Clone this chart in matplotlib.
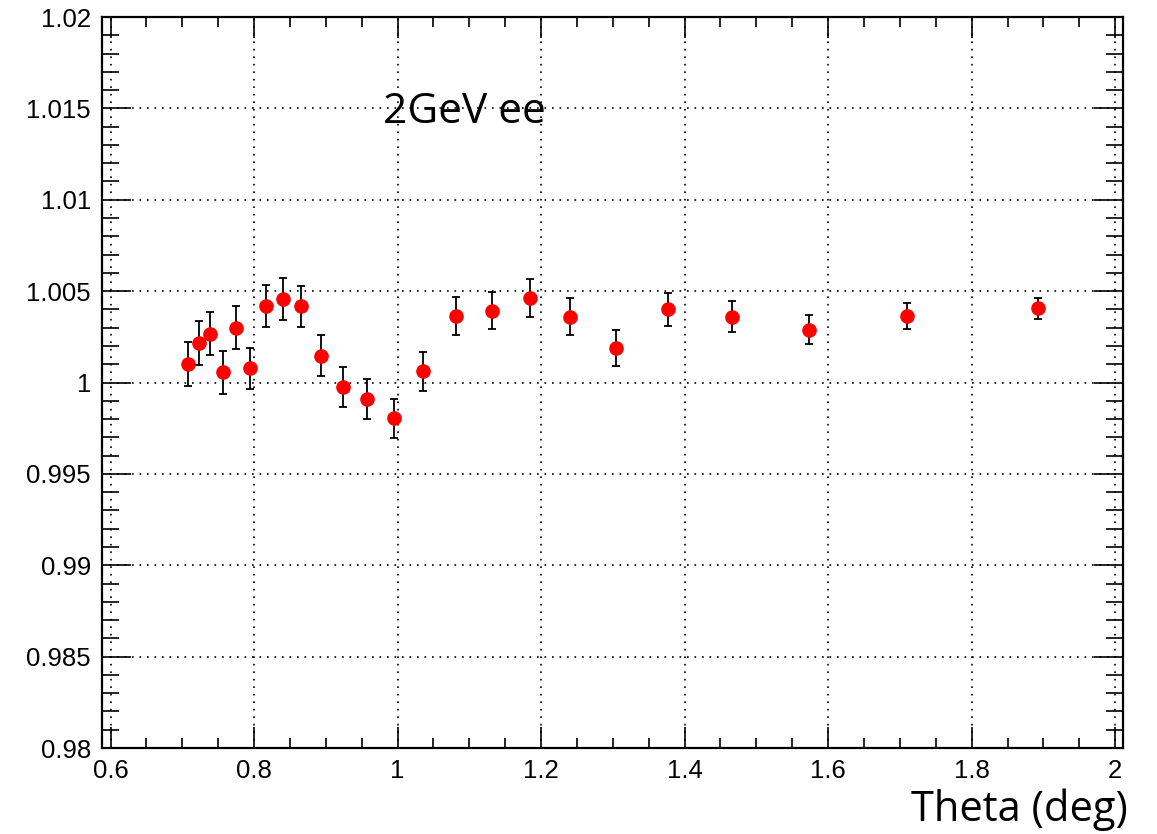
import matplotlib
matplotlib.use("Agg")
import matplotlib.pyplot as plt
from matplotlib.ticker import MultipleLocator, FuncFormatter

# data
theta = [0.708, 0.723, 0.739, 0.757, 0.7755, 0.795, 0.817, 0.840, 0.866, 0.894,
         0.924, 0.9575, 0.9946, 1.0355, 1.081, 1.131, 1.184, 1.240, 1.304, 1.377,
         1.466, 1.574, 1.710, 1.893]
ratio = [1.0010, 1.00216, 1.00268, 1.00057, 1.00301, 1.00077, 1.00418, 1.00456,
         1.00418, 1.00147, 0.99974, 0.99908, 0.99804, 1.00062, 1.00363, 1.00394,
         1.0046, 1.0036, 1.0019, 1.0040, 1.0036, 1.0029, 1.00364, 1.00406]
err = [0.0012, 0.00118, 0.00118, 0.00118, 0.00118, 0.00113, 0.00116, 0.00116,
       0.00112, 0.00112, 0.00109, 0.00109, 0.00106, 0.00106, 0.00105, 0.00103,
       0.00104, 0.00101, 0.00097, 0.00092, 0.00086, 0.00079, 0.00071, 0.00057]

label = "2GeV ee"
xlabel = "Theta (deg)"

plt.rcParams["font.family"] = ["Liberation Sans", "DejaVu Sans"]

fig = plt.figure(figsize=(11.57, 8.34), dpi=100)
ax = fig.add_axes([0.0882, 0.1031, 0.8824, 0.8765])

ax.errorbar(theta, ratio, yerr=err, fmt="o", color="red", markersize=9.5,
            ecolor="black", elinewidth=1.3, capsize=3.2, capthick=1.3, zorder=3)

ax.set_xlim(0.5882, 2.0109)
ax.set_ylim(0.98, 1.02)

ax.xaxis.set_major_locator(MultipleLocator(0.2))
ax.xaxis.set_minor_locator(MultipleLocator(0.05))
ax.yaxis.set_major_locator(MultipleLocator(0.005))
ax.yaxis.set_minor_locator(MultipleLocator(0.001))
ax.xaxis.set_major_formatter(FuncFormatter(lambda v, p: f"{v:g}"))
ax.yaxis.set_major_formatter(FuncFormatter(lambda v, p: f"{round(v, 4):g}"))

ax.tick_params(which="both", direction="in", top=True, right=True,
               labelsize=18.5, width=1.2, colors="black")
ax.tick_params(axis="x", which="major", length=15, pad=8)
ax.tick_params(axis="x", which="minor", length=7)
ax.tick_params(axis="y", which="major", length=21, pad=8)
ax.tick_params(axis="y", which="minor", length=12)

ax.grid(True, which="major", color="black", linestyle=(0, (1, 3.5)), linewidth=1.2)
for s in ax.spines.values():
    s.set_linewidth(1.6)

ax.text(0.9795, 1.0148, label, fontsize=30.5, family=["Open Sans", "DejaVu Sans"],
        ha="left", va="center")
fig.text(1128 / 1157, 1 - 810 / 834, xlabel, fontsize=30,
         family=["Open Sans", "DejaVu Sans"], ha="right", va="center")

fig.savefig("out.png", dpi=100)
